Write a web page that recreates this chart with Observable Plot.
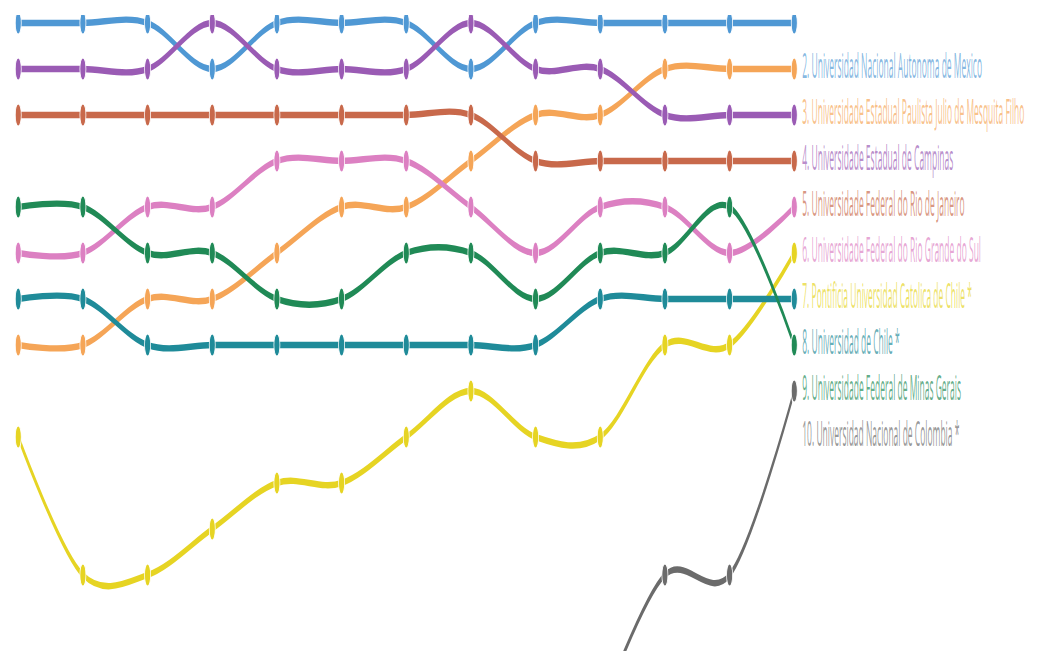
<!DOCTYPE html>
<html><head><meta charset="utf-8">
<script src="https://cdn.jsdelivr.net/npm/d3@7"></script>
<script src="https://cdn.jsdelivr.net/npm/@observablehq/plot@0.6"></script>
<style>
html,body{margin:0;padding:0;background:#fff;}
#wrap{position:absolute;left:0;top:15px;width:1055px;height:636px;overflow:hidden;}
#wrap svg{position:absolute;left:0;top:0;transform-origin:0 0;transform:scale(0.5,2);max-width:none;}
</style></head><body><div id="wrap"></div>
<script>
const years = [2011,2012,2013,2014,2015,2016,2017,2018,2019,2020,2021,2022,2023];
const names = [
  "Universidad Nacional Autonoma de Mexico",
  "Universidade Estadual Paulista Julio de Mesquita Filho",
  "Universidade Estadual de Campinas",
  "Universidade Federal do Rio de Janeiro",
  "Universidade Federal do Rio Grande do Sul",
  "Pontificia Universidad Catolica de Chile *",
  "Universidad de Chile *",
  "Universidade Federal de Minas Gerais",
  "Universidad Nacional de Colombia *"
];
const colors = ["#4f98d4","#f5a557","#9a5bb4","#c8694b","#dc80c2","#e6d423","#1f8b99","#208a56","#6b6b6b"];
// ranks per year (null = not shown)
const rankUNAM     = [2,2,2,3,2,2,2,3,2,2,2,2,2];
const rankUNESP    = [9,9,8,8,7,6,6,5,4,4,3,3,3];
const rankUnicamp  = [3,3,3,2,3,3,3,2,3,3,4,4,4];
const rankUFRJ     = [4,4,4,4,4,4,4,4,5,5,5,5,5];
const rankUFRGS    = [7,7,6,6,5,5,5,6,7,6,6,7,6];
const rankPUC      = [11,14,14,13,12,12,11,10,11,11,9,9,7];
const rankUChile   = [8,8,9,9,9,9,9,9,9,8,8,8,8];
const rankUFMG     = [6,6,7,7,8,8,7,7,8,7,7,6,9];
const rankColombia = [null,null,null,null,null,null,null,null,null,17,14,14,10];
const allRanks = [rankUNAM, rankUNESP, rankUnicamp, rankUFRJ, rankUFRGS, rankPUC, rankUChile, rankUFMG, rankColombia];

const rows = names.flatMap((name, k) => years.map((year, i) => ({name, year, rank: allRanks[k][i]})).filter(d => d.rank != null));
const last = names.map((name, k) => ({name, year: years[years.length - 1], rank: allRanks[k][years.length - 1]}));

const chart = Plot.plot({
  width: 2110, height: 318, margin: 0,
  x: {domain: [2011, 2023], range: [36, 1588], axis: null},
  y: {domain: [2, 16], range: [3.5, 325.5], axis: null},
  color: {domain: names, range: colors},
  style: {maxWidth: "none", overflow: "hidden", background: "white"},
  marks: [
    Plot.line(rows, {x: "year", y: "rank", z: "name", stroke: "name", strokeWidth: 3.2, curve: "catmull-rom"}),
    Plot.dot(rows, {x: "year", y: "rank", fill: "name", r: 6, stroke: "white", strokeWidth: 1.5}),
    Plot.text(last, {x: "year", y: "rank", text: d => `${d.rank}. ${d.name}`, fill: "name", fillOpacity: 0.7,
      textAnchor: "start", dx: 16, dy: 22, fontSize: 17, fontFamily: "Open Sans"})
  ]
});
document.getElementById("wrap").appendChild(chart);
</script></body></html>
